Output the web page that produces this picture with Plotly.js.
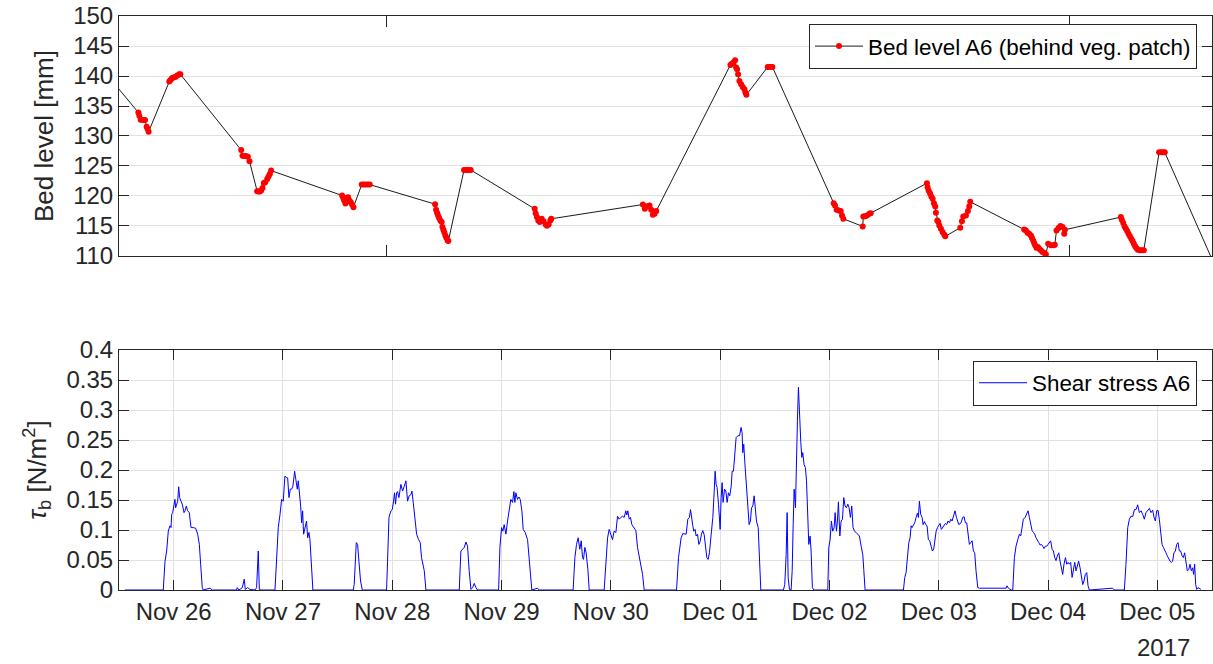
<!DOCTYPE html>
<html>
<head>
<meta charset="utf-8">
<script src="https://cdn.plot.ly/plotly-3.0.1.min.js"></script>
<style>html,body{margin:0;padding:0;background:#fff;}#chart{width:1213px;height:664px;}</style>
</head>
<body>
<div id="chart"></div>
<script>
// Time values are in days since 2017-11-25 00:00
const bedT = [0.45,0.677,0.686,0.698,0.716,0.738,0.753,0.762,0.771,
 0.960,0.972,0.984,0.997,1.015,1.033,1.051,1.061,
 1.618,1.630,1.643,1.661,1.679,1.694,
 1.764,1.777,1.789,1.801,1.813,1.825,1.838,1.856,1.868,1.880,1.892,
 2.541,2.551,2.560,2.572,2.584,2.596,2.608,2.621,2.633,2.645,
 2.721,2.740,2.758,2.776,2.794,
 3.392,3.401,3.410,3.419,3.428,3.440,3.452,3.459,3.468,3.477,3.486,3.495,3.507,3.513,
 3.657,3.672,3.687,3.702,3.718,
 4.303,4.312,4.324,4.336,4.349,4.367,4.385,4.403,4.415,4.431,4.446,4.455,
 5.293,5.311,5.332,5.354,5.369,5.384,5.400,5.415,
 6.094,6.106,6.122,6.137,6.146,6.155,6.164,6.176,6.192,6.207,6.222,6.231,6.240,
 6.435,6.451,6.466,6.478,
 7.039,7.051,7.066,7.085,7.103,7.115,7.127,
 7.304,7.310,7.325,7.344,7.365,7.377,
 7.892,7.898,7.907,7.920,7.932,7.944,7.956,7.968,7.974,7.987,7.996,8.005,8.020,8.035,8.051,8.060,
 8.197,8.212,8.224,8.249,8.267,8.279,8.288,
 8.782,8.797,8.812,8.827,8.843,8.852,8.864,8.873,8.882,8.894,8.907,8.919,8.934,8.949,8.965,8.980,
 9.001,9.026,9.050,9.062,9.077,9.096,9.114,9.132,9.148,9.154,
 9.666,9.675,9.688,9.700,9.712,9.724,9.736,9.749,9.761,9.773,9.785,9.797,9.809,9.822,9.840,9.858,9.876,
 10.016,10.035,10.053,10.068,10.55];
const bedLevel = [138.9,133.92,133.37,132.70,132.65,132.65,131.54,131.15,130.71,
 139.07,139.35,139.62,139.73,139.84,140.07,140.29,140.29,
 127.66,126.72,126.67,126.67,126.56,125.78,
 120.80,120.74,120.74,120.91,121.35,122.18,122.29,122.85,123.23,123.68,124.23,
 120.08,119.69,119.25,118.75,119.69,119.80,119.25,118.97,118.58,118.14,
 121.90,121.90,121.90,121.90,121.90,
 118.64,117.70,117.20,116.76,116.37,115.92,115.65,114.82,114.37,113.93,113.43,113.05,112.60,112.49,
 124.34,124.34,124.34,124.34,124.34,
 117.86,117.14,116.48,115.92,115.65,116.20,115.81,115.26,115.04,115.26,115.92,116.20,
 118.58,117.86,118.31,118.42,117.70,116.87,117.03,117.48,
 141.84,142.06,142.23,142.62,141.40,141.12,140.29,139.18,138.63,138.18,137.80,137.24,136.86,
 141.51,141.51,141.51,141.51,
 118.80,118.42,117.70,117.59,117.48,116.76,116.20,
 114.93,116.59,116.64,116.76,117.03,117.14,
 122.13,121.46,120.91,120.47,119.91,119.52,118.80,118.25,117.20,115.92,115.65,115.09,114.54,113.99,113.54,113.27,
 114.71,115.81,116.59,116.76,117.48,118.25,119.03,
 114.43,114.26,113.88,113.71,113.43,113.05,112.60,112.16,111.77,111.38,111.50,111.22,110.94,110.66,110.50,110.28,
 112.05,111.77,111.77,111.88,114.26,114.65,114.98,114.82,113.71,114.37,
 116.48,116.04,115.48,114.93,114.54,114.15,113.71,113.27,112.88,112.49,112.05,111.61,111.27,111.05,110.94,110.94,110.94,
 127.28,127.28,127.28,127.28,107.4];

const shearT = [0.555,0.905,0.921,0.936,0.951,0.966,0.976,0.982,0.991,1.003,1.012,1.018,1.027,1.037,1.046,1.055,1.067,1.079,1.095,1.104,1.116,1.128,1.143,1.159,1.180,1.201,1.220,1.235,1.247,1.262,1.271,1.332,1.354,
 1.576,1.582,1.598,1.628,1.646,1.655,1.677,1.698,1.744,1.759,1.774,1.784,1.799,
 1.927,1.942,1.957,1.973,1.988,2.003,2.018,2.034,2.043,2.055,2.067,2.079,2.091,2.107,2.122,2.131,2.140,2.149,2.162,2.171,2.180,2.189,2.201,2.216,2.226,2.238,2.247,2.262,2.274,
 2.643,2.652,2.671,2.683,2.695,2.710,2.726,
 2.948,2.957,2.970,2.988,3.000,3.012,3.021,3.030,3.040,3.049,3.061,3.079,3.095,3.110,3.125,3.140,3.155,3.171,3.180,3.192,3.207,3.223,3.241,3.256,3.268,3.284,3.293,3.308,
 3.613,3.628,3.643,3.659,3.674,3.689,3.704,3.720,3.735,3.750,3.765,3.780,
 3.973,3.985,4.000,4.012,4.024,4.040,4.055,4.070,4.085,4.101,4.113,4.122,4.131,4.146,4.159,4.171,4.186,4.198,4.216,4.238,4.253,4.268,4.277,4.329,4.344,
 4.655,4.671,4.686,4.701,4.716,4.729,4.741,4.750,4.762,4.774,4.790,4.802,
 4.939,4.954,4.970,4.985,5.000,5.015,5.030,5.046,5.061,5.076,5.091,5.107,5.122,5.137,5.146,5.155,5.168,5.180,5.192,5.207,5.229,5.244,5.259,5.274,5.290,5.305,
 5.601,5.619,5.643,5.658,5.674,5.689,5.704,5.719,5.729,5.741,5.750,5.759,5.771,5.780,5.793,5.805,5.817,5.829,5.841,5.854,5.866,5.878,5.890,5.902,5.918,5.933,5.945,5.954,5.963,5.972,5.985,
 6.000,6.009,6.018,6.027,6.040,6.052,6.064,6.076,6.088,6.101,6.110,6.122,6.131,6.146,6.162,6.177,6.192,6.201,6.207,6.216,6.226,6.238,6.253,6.265,6.277,6.287,6.299,6.311,6.320,6.332,6.348,6.360,6.372,
 6.579,6.591,6.604,6.613,6.622,6.634,6.649,6.659,6.668,6.677,6.689,6.698,6.707,6.716,6.726,6.738,6.747,6.756,6.768,6.780,6.790,6.799,6.811,6.823,6.832,6.844,6.857,
 6.985,6.994,7.006,7.018,7.030,7.043,7.052,7.064,7.073,7.082,7.095,7.107,7.119,7.131,7.143,7.155,7.168,7.180,7.192,7.204,7.216,7.229,7.244,7.259,7.274,7.290,7.305,7.314,7.326,
 7.677,7.689,7.701,7.713,7.726,7.738,7.747,7.756,7.768,7.780,7.793,7.805,7.814,7.823,7.835,7.848,7.857,7.869,7.881,7.893,7.905,7.918,7.930,7.942,7.954,7.963,7.976,7.988,
 8.000,8.012,8.024,8.037,8.049,8.061,8.073,8.085,8.098,8.110,8.122,8.134,8.149,8.162,8.174,8.183,
 8.204,8.219,8.232,8.244,8.256,8.268,8.280,8.293,8.305,8.317,8.329,8.341,8.357,8.372,8.494,8.616,8.625,8.637,8.662,8.677,
 8.692,8.707,8.723,8.738,8.750,8.762,8.774,8.790,8.805,8.817,8.829,8.841,8.854,8.866,8.878,8.890,8.902,8.915,8.927,8.939,8.951,8.963,8.976,8.988,
 9.000,9.012,9.024,9.037,9.049,9.061,9.073,9.085,9.098,9.110,9.122,9.134,9.146,9.159,9.171,9.183,9.195,9.207,9.220,9.232,9.244,9.256,9.268,9.280,9.293,9.305,9.317,9.329,9.341,9.354,9.366,9.378,
 9.591,9.607,9.698,9.713,9.729,9.744,9.759,9.774,9.790,9.805,9.820,9.835,9.851,9.866,9.881,9.896,9.912,9.927,9.942,9.957,9.970,9.982,9.994,
 10.006,10.018,10.030,10.043,10.055,10.067,10.079,10.091,10.104,10.116,10.128,10.140,10.152,10.165,10.177,10.189,10.201,10.213,10.226,10.238,10.250,10.262,10.274,10.287,10.299,10.311,10.323,10.332,10.341,10.351,10.360,10.372,10.384,10.399];
const shearStress = [0,0,0.048,0.065,0.098,0.107,0.104,0.126,0.129,0.140,0.151,0.137,0.143,0.148,0.172,0.154,0.148,0.143,0.129,0.132,0.140,0.132,0.129,0.104,0.104,0.103,0.093,0.076,0.043,0.004,0,0.003,0,
 0,0.004,0,0.004,0.018,0.001,0.004,0.001,0,0.004,0.065,0.001,0,
 0,0.054,0.104,0.126,0.151,0.148,0.190,0.187,0.187,0.154,0.168,0.168,0.173,0.198,0.182,0.168,0.182,0.168,0.140,0.112,0.132,0.093,0.104,0.115,0.087,0.096,0.084,0.037,0,
 0,0.009,0.079,0.076,0.048,0.015,0,
 0,0.048,0.121,0.132,0.134,0.148,0.162,0.143,0.162,0.164,0.154,0.176,0.165,0.173,0.182,0.148,0.157,0.159,0.165,0.146,0.121,0.093,0.084,0.079,0.054,0.043,0.032,0,
 0,0.065,0.068,0.071,0.080,0.073,0.032,0.001,0.004,0.011,0.004,0,
 0,0.071,0.104,0.098,0.109,0.093,0.115,0.132,0.151,0.146,0.164,0.146,0.162,0.151,0.155,0.151,0.132,0.101,0.096,0.084,0.054,0.026,0,0.003,0,
 0,0.054,0.076,0.087,0.068,0.082,0.054,0.051,0.071,0.062,0.034,0,
 0,0.054,0.087,0.101,0.093,0.084,0.098,0.096,0.123,0.118,0.121,0.123,0.121,0.132,0.125,0.132,0.118,0.121,0.109,0.104,0.099,0.071,0.057,0.043,0.026,0,
 0,0.054,0.087,0.094,0.093,0.093,0.118,0.121,0.134,0.112,0.107,0.098,0.101,0.090,0.093,0.076,0.081,0.093,0.099,0.092,0.076,0.054,0.051,0.062,0.093,0.121,0.162,0.198,0.176,0.171,0.143,
 0.101,0.154,0.179,0.146,0.168,0.165,0.146,0.162,0.157,0.173,0.198,0.198,0.223,0.254,0.257,0.257,0.271,0.262,0.229,0.243,0.212,0.179,0.148,0.109,0.115,0.137,0.140,0.157,0.140,0.115,0.104,0.057,0,
 0,0.009,0.059,0.129,0.021,0.001,0,0.032,0.109,0.168,0.137,0.232,0.282,0.338,0.282,0.246,0.221,0.229,0.209,0.204,0.182,0.143,0.076,0.090,0.065,0.004,0,
 0,0.071,0.084,0.115,0.098,0.104,0.129,0.098,0.115,0.147,0.090,0.115,0.118,0.154,0.140,0.137,0.143,0.137,0.121,0.140,0.104,0.098,0.096,0.093,0.090,0.073,0.059,0.034,0,
 0,0.021,0.029,0.062,0.079,0.087,0.107,0.104,0.109,0.112,0.121,0.128,0.121,0.148,0.126,0.121,0.109,0.114,0.109,0.107,0.084,0.082,0.073,0.065,0.068,0.082,0.098,0.104,
 0.108,0.111,0.101,0.104,0.108,0.111,0.109,0.115,0.112,0.118,0.115,0.121,0.132,0.121,0.115,0.109,
 0.112,0.121,0.122,0.112,0.112,0.093,0.076,0.079,0.082,0.065,0.062,0.032,0.004,0.003,0.003,0.003,0.007,0.003,0,0,
 0.054,0.073,0.084,0.093,0.090,0.107,0.118,0.121,0.126,0.132,0.121,0.109,0.099,0.096,0.093,0.087,0.084,0.079,0.075,0.076,0.073,0.069,0.073,0.073,
 0.076,0.079,0.082,0.068,0.065,0.054,0.049,0.057,0.062,0.048,0.037,0.026,0.043,0.054,0.043,0.046,0.043,0.046,0.021,0.037,0.046,0.032,0.043,0.048,0.037,0.021,0.009,0.015,0.026,0.029,0.007,0,
 0.003,0,0,0.043,0.104,0.118,0.123,0.122,0.134,0.134,0.142,0.129,0.132,0.126,0.118,0.129,0.132,0.136,0.129,0.133,0.121,0.115,0.132,
 0.133,0.118,0.093,0.076,0.071,0.065,0.062,0.057,0.051,0.048,0.046,0.048,0.062,0.065,0.076,0.079,0.065,0.065,0.057,0.054,0.062,0.048,0.032,0.034,0.043,0.032,0.037,0.026,0.043,0.009,0.001,0.004,0.003,0.001];

const xRangeT = [0.5, 10.5];
const topTickT = [2.947, 9.193];
const yearLabel = '2017';

function tToDate(t) {
  const ms = Date.UTC(2017, 10, 25) + Math.round(t * 86400000);
  return new Date(ms).toISOString().replace('T', ' ').slice(0, 19);
}

const ink = '#262626';
const grid = '#e1e1e1';
const fam = 'Liberation Sans, Arial, sans-serif';

const traces = [
  {
    x: bedT.map(tToDate), y: bedLevel, xaxis: 'x2', yaxis: 'y2',
    type: 'scatter', mode: 'lines+markers',
    name: 'Bed level A6 (behind veg. patch)',
    line: {color: '#000000', width: 0.9},
    marker: {color: '#ff0000', size: 6, line: {width: 0}},
    legend: 'legend'
  },
  {
    x: shearT.map(tToDate), y: shearStress, xaxis: 'x', yaxis: 'y',
    type: 'scatter', mode: 'lines',
    name: 'Shear stress A6',
    line: {color: '#0000ff', width: 1},
    legend: 'legend2'
  }
];

const tickFont = {family: fam, size: 24, color: ink};
const range = xRangeT.map(tToDate);

const layout = {
  width: 1213, height: 664,
  margin: {l: 119, r: 1, t: 16, b: 74},
  paper_bgcolor: '#ffffff', plot_bgcolor: '#ffffff',
  font: {family: fam, color: ink},
  xaxis: {
    type: 'date', range: range, anchor: 'y', domain: [0, 1],
    tick0: tToDate(1), dtick: 86400000, tickformat: '%b %d',
    ticks: 'inside', ticklen: 10, tickcolor: ink, tickwidth: 1,
    showline: true, linecolor: ink, linewidth: 1, mirror: 'allticks',
    showgrid: true, gridcolor: grid, zeroline: false,
    tickfont: tickFont
  },
  xaxis2: {
    type: 'date', range: range, anchor: 'y2', domain: [0, 1],
    tickmode: 'array', tickvals: topTickT.map(tToDate), showticklabels: false,
    ticks: 'inside', ticklen: 11, tickcolor: ink, tickwidth: 1,
    showline: true, linecolor: ink, linewidth: 1, mirror: 'allticks',
    showgrid: false, zeroline: false
  },
  yaxis: {
    domain: [0, 0.4181], range: [0, 0.4], dtick: 0.05, anchor: 'x',
    ticks: 'inside', ticklen: 10, tickcolor: ink, tickwidth: 1,
    showline: true, linecolor: ink, linewidth: 1, mirror: 'allticks',
    showgrid: true, gridcolor: grid, zeroline: false,
    tickfont: tickFont,
    title: {text: '<i>τ</i><sub>b</sub> [N/m<sup>2</sup>]', font: {family: fam, size: 26, color: ink}, standoff: 12}
  },
  yaxis2: {
    domain: [0.5819, 1], range: [110, 150], dtick: 5, anchor: 'x2',
    ticks: 'inside', ticklen: 10, tickcolor: ink, tickwidth: 1,
    showline: true, linecolor: ink, linewidth: 1, mirror: 'allticks',
    showgrid: true, gridcolor: grid, zeroline: false,
    tickfont: tickFont,
    title: {text: 'Bed level [mm]', font: {family: fam, size: 26, color: ink}, standoff: 12}
  },
  legend: {
    x: 0.9863, y: 0.986, xanchor: 'right', yanchor: 'top',
    bgcolor: '#ffffff', bordercolor: ink, borderwidth: 1,
    itemwidth: 48,
    font: {family: fam, size: 22.4, color: '#000000'}
  },
  legend2: {
    x: 0.9863, y: 0.3995, xanchor: 'right', yanchor: 'top',
    bgcolor: '#ffffff', bordercolor: ink, borderwidth: 1,
    itemwidth: 48,
    font: {family: fam, size: 22.4, color: '#000000'}
  },
  showlegend: true,
  annotations: [{
    text: yearLabel, xref: 'paper', yref: 'paper', x: 0.956, y: -0.101,
    xanchor: 'center', yanchor: 'middle', showarrow: false,
    font: {family: fam, size: 24, color: ink}
  }]
};

Plotly.newPlot('chart', traces, layout, {staticPlot: true, displayModeBar: false});
</script>
</body>
</html>
